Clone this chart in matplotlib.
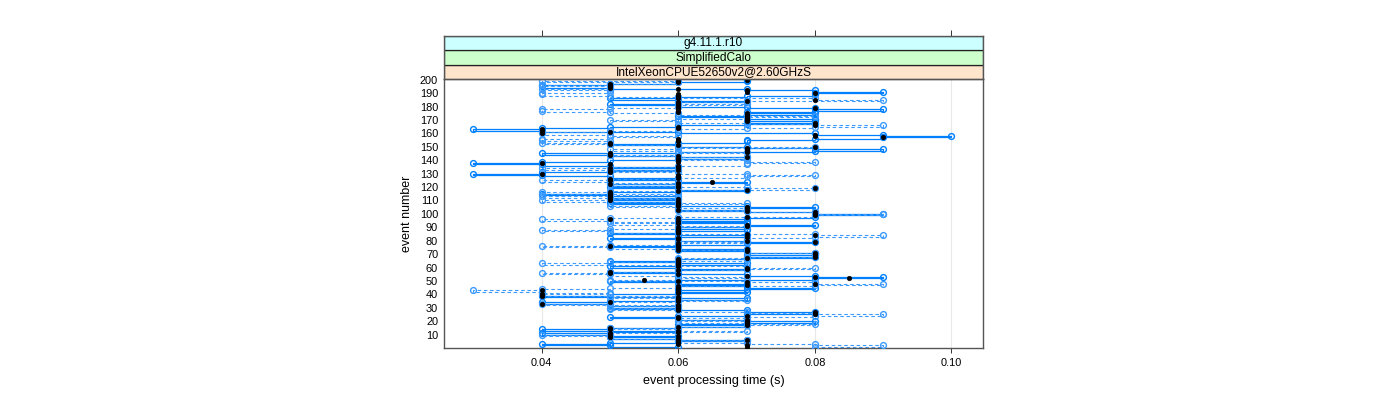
import numpy as np
import matplotlib
matplotlib.use("Agg")
import matplotlib.pyplot as plt
from matplotlib.patches import Rectangle

plt.rcParams['font.family'] = ['Liberation Sans', 'DejaVu Sans']

# ---------------- data (event processing times in ms) ----------------
events = list(range(1, 201))

run1_ms = [
    60, 50, 40, 50, 60, 70, 60, 50, 60, 50,
    40, 50, 60, 40, 50, 60, 70, 60, 70, 80,
    70, 60, 50, 60, 70, 80, 80, 70, 60, 50,
    60, 50, 50, 40, 50, 60, 70, 60, 40, 50,
    60, 70, 60, 70, 80, 70, 60, 70, 60, 50,
    60, 80, 90, 80, 70, 60, 50, 60, 70, 60,
    50, 60, 70, 60, 50, 60, 70, 80, 70, 80,
    80, 70, 60, 70, 60, 50, 60, 70, 80, 70,
    60, 50, 60, 70, 60, 50, 60, 70, 70, 60,
    70, 80, 70, 60, 70, 60, 70, 80, 80, 90,
    80, 70, 60, 70, 80, 70, 60, 50, 60, 50,
    60, 50, 60, 50, 40, 50, 60, 70, 60, 50,
    60, 50, 60, 70, 60, 50, 60, 50, 40, 30,
    40, 50, 60, 50, 60, 50, 40, 30, 40, 50,
    60, 70, 60, 50, 40, 60, 80, 90, 80, 70,
    60, 50, 60, 70, 70, 80, 90, 100, 90, 80,
    60, 40, 30, 40, 50, 60, 70, 80, 70, 80,
    80, 70, 60, 70, 80, 70, 80, 90, 80, 70,
    60, 50, 60, 70, 60, 50, 60, 70, 80, 80,
    90, 80, 70, 50, 40, 40, 50, 60, 70, 70,
]

run2_ms = [
    80, 90, 80, 70, 60, 70, 60, 50, 50, 40,
    50, 60, 70, 60, 50, 60, 70, 80, 70, 60,
    70, 60, 70, 80, 90, 80, 70, 60, 50, 60,
    50, 60, 40, 50, 60, 70, 60, 50, 60, 40,
    50, 40, 30, 40, 50, 60, 80, 90, 80, 70,
    50, 60, 70, 60, 50, 40, 50, 60, 70, 80,
    70, 60, 40, 50, 60, 70, 60, 70, 80, 80,
    80, 70, 70, 60, 50, 40, 50, 60, 70, 60,
    70, 70, 80, 90, 80, 60, 50, 40, 50, 60,
    70, 60, 50, 60, 50, 40, 50, 60, 80, 90,
    80, 70, 60, 70, 60, 50, 60, 70, 60, 40,
    50, 60, 40, 50, 60, 40, 50, 60, 80, 70,
    60, 50, 60, 50, 40, 50, 60, 70, 80, 70,
    60, 50, 60, 40, 50, 60, 70, 70, 80, 70,
    60, 70, 60, 50, 60, 70, 60, 50, 60, 80,
    60, 50, 40, 50, 40, 40, 50, 60, 50, 40,
    40, 50, 60, 70, 80, 90, 80, 70, 60, 50,
    60, 70, 80, 70, 60, 50, 40, 40, 50, 60,
    60, 70, 60, 70, 90, 80, 60, 50, 40, 40,
    50, 50, 40, 50, 50, 40, 50, 60, 40, 60,
]

mean_ms = [
    70, 70, 60, 60, 60, 70, 60, 50, 60, 50,
    50, 60, 60, 50, 50, 60, 70, 70, 70, 70,
    70, 60, 60, 70, 80, 80, 80, 60, 60, 60,
    60, 60, 40, 50, 60, 60, 60, 60, 40, 40,
    60, 60, 40, 60, 60, 60, 70, 80, 70, 60,
    55, 85, 80, 70, 60, 50, 50, 60, 70, 70,
    60, 60, 60, 60, 60, 60, 70, 80, 80, 80,
    80, 70, 60, 70, 60, 50, 60, 60, 80, 70,
    60, 60, 70, 80, 70, 60, 60, 60, 60, 60,
    70, 70, 60, 60, 60, 50, 60, 70, 80, 80,
    80, 70, 60, 70, 70, 60, 60, 60, 60, 50,
    60, 50, 50, 50, 50, 50, 60, 70, 80, 60,
    60, 50, 60, 65, 50, 50, 60, 60, 60, 40,
    50, 50, 60, 50, 60, 60, 50, 40, 60, 60,
    60, 70, 60, 50, 50, 70, 70, 70, 70, 80,
    60, 50, 50, 60, 60, 60, 90, 80, 80, 40,
    50, 40, 40, 60, 60, 80, 80, 80, 70, 70,
    70, 70, 70, 70, 70, 60, 60, 60, 80, 60,
    60, 60, 60, 70, 80, 60, 60, 60, 60, 80,
    70, 70, 60, 50, 50, 50, 50, 60, 60, 70,
]

x_ticks = [0.04, 0.06, 0.08, 0.10]
x_tick_labels = ["0.04", "0.06", "0.08", "0.10"]
y_ticks = list(range(10, 201, 10))
strip_labels = ["IntelXeonCPUE52650v2@2.60GHzS", "SimplifiedCalo", "g4.11.1.r10"]
strip_colors = ["#ffe5cc", "#ccffcc", "#ccffff"]

# ---------------- figure ----------------
W, H = 1400, 400
fig = plt.figure(figsize=(W / 100, H / 100), dpi=100)

pl, pr, pt, pb = 444, 983, 79, 348
ax = fig.add_axes([pl / W, 1 - pb / H, (pr - pl) / W, (pb - pt) / H])
xlim = (0.02573, 0.10461)
ax.set_xlim(*xlim)
ax.set_ylim(0, 200.5)

for xv in x_ticks:
    ax.axvline(xv, color="#e8e8e8", lw=0.8, zorder=0)

t1 = np.array(run1_ms) / 1000.0
t2 = np.array(run2_ms) / 1000.0
tm = np.array(mean_ms) / 1000.0
ev = np.array(events)

c1 = "#0080ff"
c2 = "#3d9bff"
ax.plot(t1, ev, drawstyle="steps-post", color=c1, lw=0.9, zorder=2)
ax.plot(t2, ev, drawstyle="steps-post", color=c2, lw=0.8, dashes=(3.2, 2.4), zorder=2)
ax.plot(t1, ev, ls="none", marker="o", ms=4.2, mfc="none", mec=c1, mew=1.0, zorder=3)
ax.plot(t2, ev, ls="none", marker="o", ms=4.2, mfc="none", mec=c2, mew=1.0, zorder=3)
ax.plot(tm, ev, ls="none", marker="o", ms=3.3, mfc="black", mec="black", mew=0.4, zorder=4)

ax.set_xticks(x_ticks)
ax.set_xticklabels(x_tick_labels)
ax.set_yticks(y_ticks)
ax.set_yticklabels([str(v) for v in y_ticks])
ax.tick_params(axis="x", direction="out", length=3.8, width=0.7, color="#333333",
               labelsize=7.9, pad=3.5)
ax.tick_params(axis="y", length=0, labelsize=7.9, pad=4.2)
for s in ax.spines.values():
    s.set_color("#555555")
    s.set_linewidth(1.0)
ax.set_xlabel("event processing time (s)", fontsize=9.1, labelpad=5)
ax.set_ylabel("event number", fontsize=9.0, labelpad=5)

# ---------------- strips ----------------
st_top, st_bot = 35.7, 79
sax = fig.add_axes([pl / W, 1 - st_bot / H, (pr - pl) / W, (st_bot - st_top) / H])
sax.set_xlim(*xlim)
sax.set_ylim(0, 3)
for i, (lab, col) in enumerate(zip(strip_labels, strip_colors)):
    sax.add_patch(Rectangle((xlim[0], i), xlim[1] - xlim[0], 1, facecolor=col,
                            edgecolor="#222222", lw=0.9, zorder=1))
    sax.text((xlim[0] + xlim[1]) / 2, i + 0.47, lab, ha="center", va="center",
             fontsize=8.6, zorder=2)
for s in sax.spines.values():
    s.set_color("#555555")
    s.set_linewidth(1.0)
sax.set_yticks([])
sax.set_xticks(x_ticks)
sax.tick_params(axis="x", which="both", bottom=False, top=True, labelbottom=False,
                labeltop=False, direction="out", length=4.5, width=0.7, color="#333333")

fig.savefig("out.png", dpi=100)
